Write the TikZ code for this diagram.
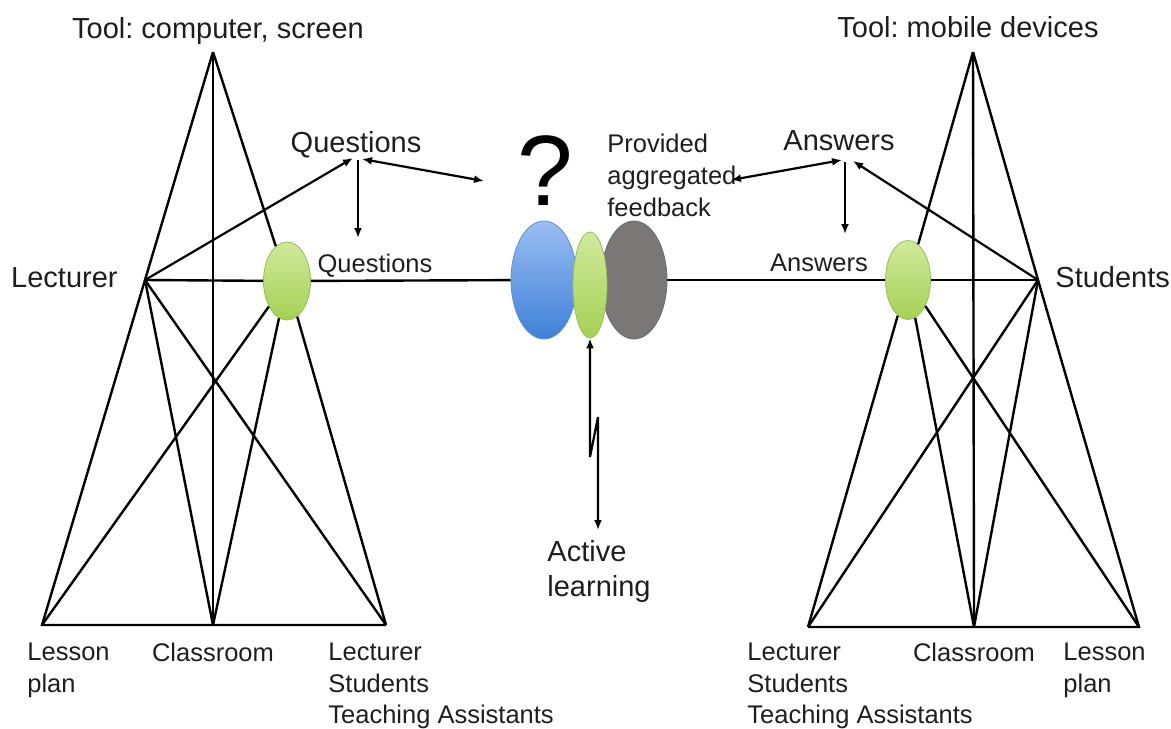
\documentclass[tikz,border=0pt]{standalone}
\usepackage{fontspec}
\setmainfont{Liberation Sans}
\frenchspacing
\usetikzlibrary{arrows.meta, shapes.geometric, positioning}

\definecolor{textgray}{RGB}{30,30,30}
\definecolor{greentop}{RGB}{208,234,155}
\definecolor{greenbot}{RGB}{165,208,85}
\definecolor{greenline}{RGB}{150,190,90}
\definecolor{bluetop}{RGB}{155,190,242}
\definecolor{bluebot}{RGB}{62,128,215}
\definecolor{blueline}{RGB}{95,145,215}
\definecolor{grayfill}{RGB}{122,119,118}
\definecolor{grayline}{RGB}{100,110,130}

\begin{document}
\begin{tikzpicture}[
    x=0.5pt, y=-0.5pt,
    % Defining style for the triangle lines
    tri line/.style={
        draw=black,
        line width=1.2pt
    },
    % Defining style for the arrows
    arrow line/.style={
        draw=black,
        line width=1.1pt,
        -{Latex[length=5pt,width=4pt]}
    },
    both arrow/.style={
        arrow line,
        {Latex[length=5pt,width=4pt]}-{Latex[length=5pt,width=4pt]}
    },
    % Defining styles for the texts
    big text/.style={
        inner sep=0pt,
        text=textgray,
        font=\fontsize{14.5}{17.5}\selectfont
    },
    small text/.style={
        inner sep=0pt,
        text=textgray,
        align=left,
        font=\fontsize{12.75}{15.75}\selectfont
    },
    % Defining styles for the objects
    green obj/.style={
        ellipse,
        inner sep=0pt,
        draw=greenline,
        line width=0.4pt,
        top color=greentop,
        bottom color=greenbot
    },
    blue obj/.style={
        ellipse,
        inner sep=0pt,
        draw=blueline,
        line width=0.4pt,
        top color=bluetop,
        bottom color=bluebot,
        minimum width=33pt,
        minimum height=59pt
    },
    gray obj/.style={
        ellipse,
        inner sep=0pt,
        draw=grayline,
        line width=0.4pt,
        fill=grayfill,
        minimum width=33pt,
        minimum height=59pt
    }
]

    \useasboundingbox (0,0) rectangle (1171,728);

    % Left triangle: lecturer
    \coordinate (toolL) at (213,52);
    \coordinate (lect) at (145,280);
    \coordinate (rulesL) at (42,625);
    \coordinate (commL) at (213,625);
    \coordinate (divL) at (386,625);
    \node[green obj, minimum width=23.5pt, minimum height=39pt] (objL) at (287,281) {};

    % Right triangle: students
    \coordinate (toolR) at (973,52);
    \coordinate (stud) at (1038,280);
    \coordinate (divR) at (808,627);
    \coordinate (commR) at (974,627);
    \coordinate (rulesR) at (1139,627);
    \node[green obj, minimum width=22.5pt, minimum height=39.5pt] (objR) at (908,280) {};

    % Shared object in the middle
    \node[blue obj] (quest) at (544,280) {};
    \node[gray obj] (feed) at (634,280) {};
    \node[green obj, minimum width=17pt, minimum height=53pt] (actg) at (590,285) {};

    % Triangle edges
    \begin{scope}[tri line]
        \draw (toolL) -- (lect) -- (rulesL) -- (divL);
        \draw (toolL) -- (objL);
        \draw (objL) -- (divL);
        \draw (toolR) -- (stud) -- (rulesR) -- (divR);
        \draw (toolR) -- (objR);
        \draw (objR) -- (divR);
        \foreach \a/\b in {toolL/commL, lect/commL, lect/divL, objL/rulesL, objL/commL,
                           toolR/commR, stud/commR, stud/divR, objR/rulesR, objR/commR} {
            \draw (\a) -- (\b);
        }
        % line through the objects
        \draw (lect) -- (objL);
        \draw (objL) -- (quest);
        \draw (feed) -- (objR);
        \draw (objR) -- (stud);
    \end{scope}

    % Questions and answers arrows
    \coordinate (qjL) at (353,158);
    \coordinate (qjR) at (362,159);
    \coordinate (qjV) at (358,160);
    \coordinate (qtip) at (484,181);
    \coordinate (qdown) at (358,238);
    \draw[arrow line] (lect) -- (qjL);
    \draw[both arrow] (qjR) -- (qtip);
    \draw[arrow line] (qjV) -- (qdown);

    \coordinate (ajL) at (842,160);
    \coordinate (ajR) at (853,161);
    \coordinate (ajV) at (845,162);
    \coordinate (atip) at (731,180);
    \coordinate (adown) at (845,234);
    \draw[both arrow] (ajL) -- (atip);
    \draw[arrow line] (stud) -- (ajR);
    \draw[arrow line] (ajV) -- (adown);

    % Active learning arrow with a break
    \coordinate (zz1) at (590,457);
    \coordinate (zz2) at (598,417);
    \coordinate (actend) at (598,530);
    \draw[both arrow] (actg.south) -- (zz1) -- (zz2) -- (actend);

    % Labels
    \node[big text, anchor=base] (toolLtxt) at (218,38) {Tool: computer, screen};
    \node[big text, anchor=base] (toolRtxt) at (968,37) {Tool: mobile devices};
    \node[big text, anchor=base east] (lecttxt) at (118,287) {Lecturer};
    \node[big text, anchor=base west] (studtxt) at (1055,287) {Students};
    \node[big text, anchor=base] (qtxt) at (356,152) {Questions};
    \node[big text, anchor=base] (atxt) at (839,150) {Answers};
    \node[small text, anchor=base] (qlow) at (375,272) {Questions};
    \node[small text, anchor=base] (alow) at (819,271) {Answers};
    \node[inner sep=0pt, font=\fontsize{50}{50}\selectfont] (qmark) at (545,171) {?};
    \node[small text, anchor=north west, font=\fontsize{12.75}{16}\selectfont] (feedtxt) at (607,134) {Provided\\aggregated\\feedback};
    \node[big text, align=left, anchor=north west] (acttxt) at (547,540) {Active\\learning};

    \node[small text, anchor=north west] (rulesLtxt) at (27,643) {Lesson\\plan};
    \node[small text, below=9pt of commL] (commLtxt) {Classroom};
    \node[small text, anchor=north west] (divLtxt) at (328,643) {Lecturer\\Students\\Teaching Assistants};
    \node[small text, anchor=north west] (divRtxt) at (747,643) {Lecturer\\Students\\Teaching Assistants};
    \node[small text, below=8pt of commR] (commRtxt) {Classroom};
    \node[small text, anchor=north west] (rulesRtxt) at (1063,643) {Lesson\\plan};

\end{tikzpicture}
\end{document}
